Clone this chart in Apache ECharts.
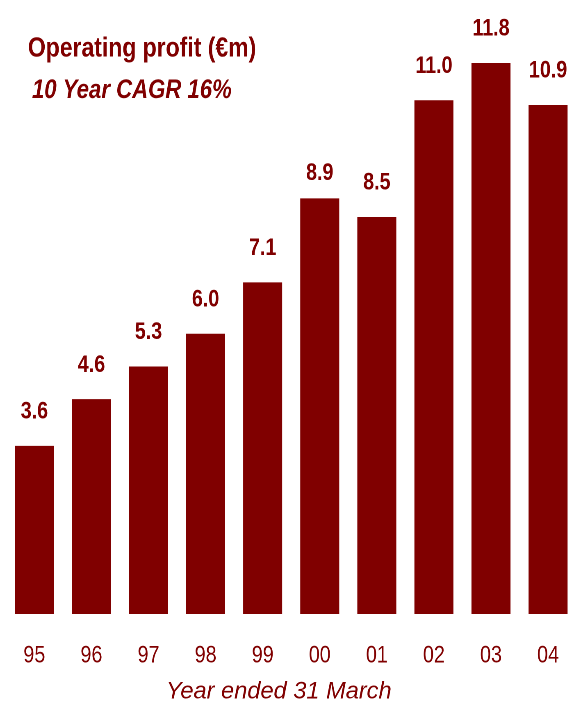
<!DOCTYPE html>
<html>
<head>
<meta charset="utf-8">
<script src="https://cdn.jsdelivr.net/npm/echarts@6/dist/echarts.min.js"></script>
<style>
  html, body { margin: 0; padding: 0; background: #ffffff; overflow: hidden; }
  #wrap { width: 568px; height: 702px; overflow: hidden; }
  /* The chart is laid out wider and squeezed horizontally so that its
     lettering takes the narrow, condensed look of the house style. */
  #chart { width: 693px; height: 702px; transform: scaleX(0.82); transform-origin: 0 0; }
</style>
</head>
<body>
<div id="wrap"><div id="chart"></div></div>
<script>
// Operating profit by financial year (€m)
const years = ['95', '96', '97', '98', '99', '00', '01', '02', '03', '04'];
const profit = [3.6, 4.6, 5.3, 6.0, 7.1, 8.9, 8.5, 11.0, 11.8, 10.9];

const titleText = 'Operating profit (€m)';
const subtitleText = '10 Year CAGR 16%';
const axisCaption = 'Year ended 31 March';

const SQUEEZE = 0.82;            // horizontal compression applied to #chart
const MAROON = '#800000';
const FONT = "'Liberation Sans', Arial, sans-serif";

const chart = echarts.init(document.getElementById('chart'), null, { devicePixelRatio: 2 });

// The 2000 label sits a little closer to its bar than the others.
const barData = profit.map((v, i) =>
  years[i] === '00' ? { value: v, label: { distance: 13 } } : v
);

chart.setOption({
  animation: false,
  backgroundColor: '#ffffff',
  title: [
    {
      text: titleText,
      left: 29, top: 30,
      textStyle: { color: MAROON, fontFamily: FONT, fontWeight: 'bold', fontSize: 28 }
    },
    {
      text: subtitleText,
      left: 34, top: 72,
      textStyle: { color: MAROON, fontFamily: FONT, fontWeight: 'bold', fontStyle: 'italic', fontSize: 27 }
    }
  ],
  // The axis caption is set in the regular width, so undo the squeeze for it.
  graphic: [{
    type: 'text',
    x: 166 / SQUEEZE,
    y: 692,
    scaleX: 1 / SQUEEZE,
    style: {
      text: axisCaption,
      fill: MAROON,
      font: 'italic normal 23.6px ' + FONT,
      align: 'left',
      verticalAlign: 'middle'
    }
  }],
  grid: {
    left: 5.8 / SQUEEZE,
    width: 570.8 / SQUEEZE,
    top: 6.9,
    bottom: 88,
    outerBoundsMode: 'none'
  },
  xAxis: {
    type: 'category',
    data: years,
    axisLine: { show: false },
    axisTick: { show: false },
    axisLabel: {
      color: MAROON, fontFamily: FONT, fontSize: 24, margin: 30
    }
  },
  yAxis: {
    type: 'value',
    min: 0, max: 13,
    show: false,
    splitLine: { show: false }
  },
  series: [{
    type: 'bar',
    data: barData,
    barWidth: 39 / SQUEEZE,
    itemStyle: { color: MAROON },
    label: {
      show: true,
      position: 'top',
      distance: 22,
      formatter: p => p.value.toFixed(1),
      color: MAROON,
      fontFamily: FONT,
      fontWeight: 'bold',
      fontSize: 24
    }
  }]
});
</script>
</body>
</html>
